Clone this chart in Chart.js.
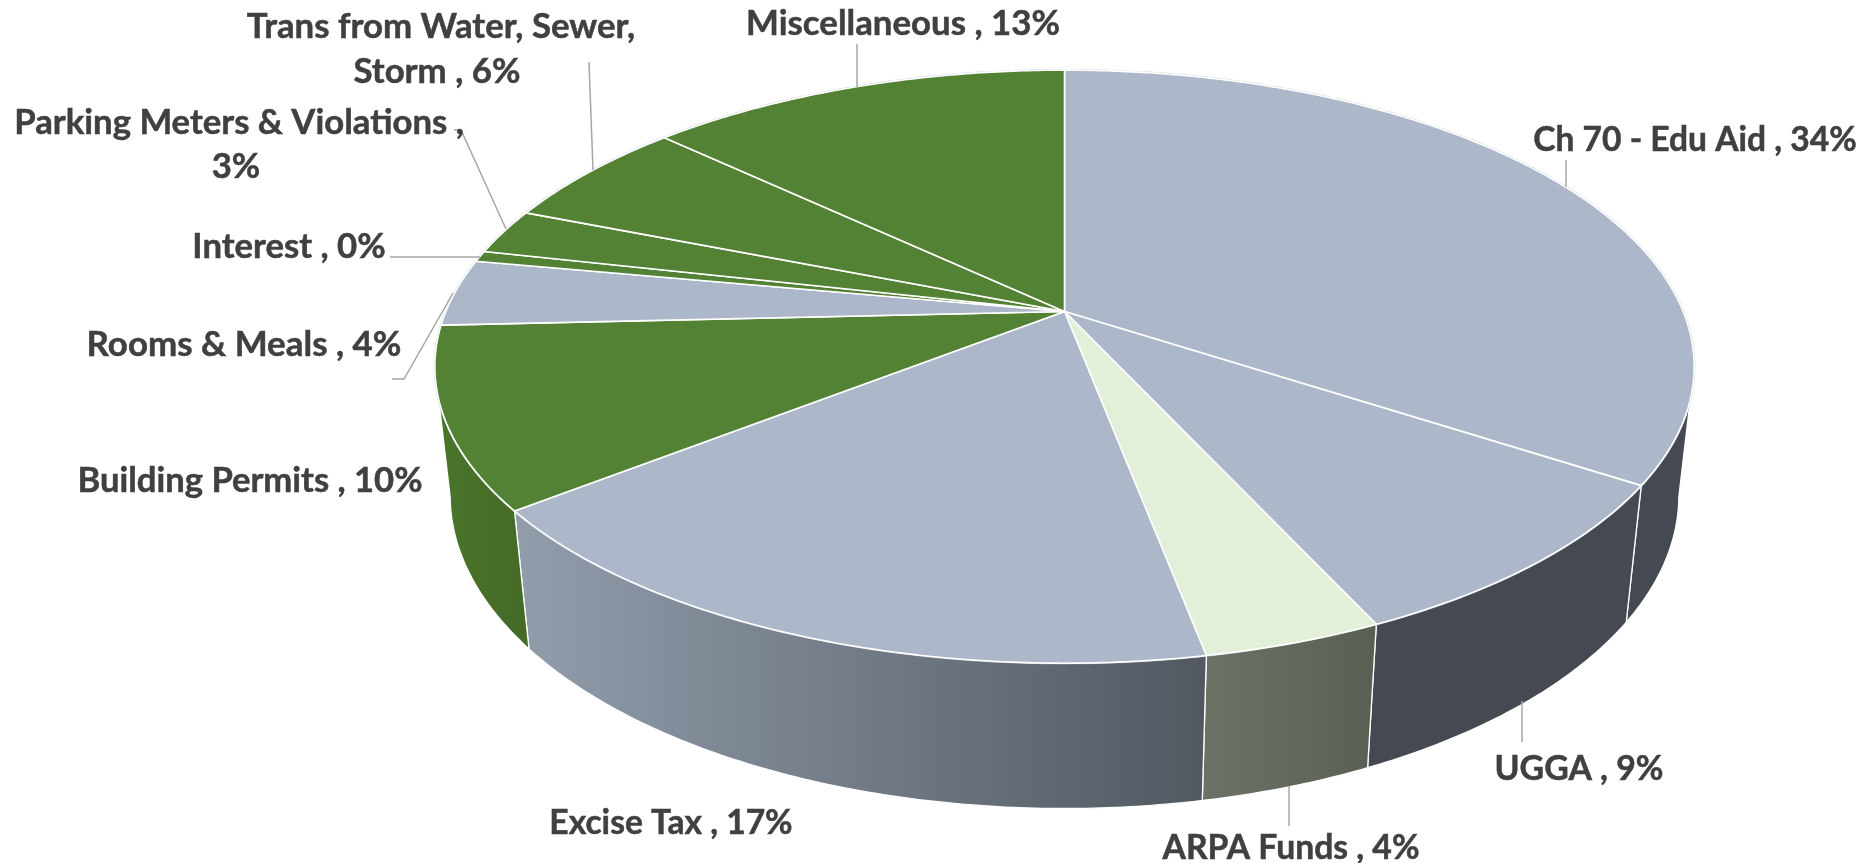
<!DOCTYPE html>
<html>
<head>
<meta charset="utf-8">
<style>html,body{margin:0;padding:0;background:#fff}canvas{display:block}</style>
<script src="https://cdn.jsdelivr.net/npm/chart.js@4"></script>
</head>
<body>
<canvas id="c" width="1863" height="863"></canvas>
<script>
// Data, clockwise from 12 o'clock
const categories = ["Ch 70 - Edu Aid","UGGA","ARPA Funds","Excise Tax","Building Permits","Rooms & Meals","Interest","Parking Meters & Violations","Trans from Water, Sewer, Storm","Miscellaneous"];
const sliceShares = [34.2, 8.92, 3.88, 17.42, 9.83, 3.65, 0.6, 2.5, 6, 13];
const percentLabels = ["34%","9%","4%","17%","10%","4%","0%","3%","6%","13%"];

// Styles
const topColors = ["#acb8c9","#acb8c9","#e2efd9","#acb8c9","#548235","#acb8c9","#548235","#548235","#548235","#548235"];
const wallColors = [["#454a52","#454a52"],["#454a52","#454a52"],["#6b7366","#5a5f54"],["#929dac","#515860"],["#4b752b","#446a26"],["#8a94a2","#8a94a2"],["#446a26","#446a26"],["#446a26","#446a26"],["#446a26","#446a26"],["#446a26","#446a26"]];

// Label placement: text, centre x, centre y, font size, in page pixels
const labelLines = [
  [["Ch 70 - Edu Aid , 34%",1695,140.5,33.6]],
  [["UGGA , 9%",1579,769.5,33.8]],
  [["ARPA Funds , 4%",1291,848.5,33.7]],
  [["Excise Tax , 17%",671,823.5,33.6]],
  [["Building Permits , 10%",250,481,34.6]],
  [["Rooms & Meals , 4%",244,345,34.9]],
  [["Interest , 0%",289,246.5,34.7]],
  [["Parking Meters & Violations ,",239,122.5,34.7],["3%",236,166.5,34.7]],
  [["Trans from Water, Sewer,",441,26.5,34.8],["Storm , 6%",437,71.5,34.8]],
  [["Miscellaneous , 13%",903,23.5,34.8]]
];
const leaders = [
  [[1566,160],[1566,187]],
  [[1522,701],[1522,742]],
  [[1289,786],[1289,826]],
  [[857,44],[857,87]],
  [[589,62],[593,170]],
  [[454,130],[461,130],[506,229]],
  [[390,257],[480,257]],
  [[392,379],[404,379],[453,293]]
];

// Perspective of the disc (multiples of the library's pie radius)
const view = {ax:1.986, by:0.919, k:0.186, depth:0.418, dw:0.024};
const sil = Math.asin(view.k);   // angle where the wall's side edge touches the rim

function project(arc, ang, low){
  const x=Math.cos(ang), y=Math.sin(ang), r=arc.outerRadius;
  const w=1-view.k*y+(low?view.dw:0);
  return [arc.x+r*view.ax*x/w, arc.y+r*(view.by*y+(low?view.depth:0))/w];
}
function rim(arc, from, to, low){
  const pts=[], n=Math.max(2,Math.ceil(Math.abs(to-from)/0.01));
  for(let i=0;i<=n;i++) pts.push(project(arc,from+(to-from)*i/n,low));
  return pts;
}
function tracePts(ctx,pts,first){
  pts.forEach((p,i)=>{ if(i===0&&first) ctx.moveTo(p[0],p[1]); else ctx.lineTo(p[0],p[1]); });
}

const pie3d = {
  id:'pie3d',
  beforeDatasetDraw(chart){
    const ctx=chart.ctx, arcs=chart.getDatasetMeta(0).data;
    ctx.save();
    ctx.lineJoin='round';
    // side walls: only the part of each slice facing the viewer
    arcs.forEach((arc,i)=>{
      const s=Math.max(arc.startAngle,sil), e=Math.min(arc.endAngle,Math.PI-sil);
      if(e<=s) return;
      const up=rim(arc,s,e,false), lo=rim(arc,e,s,true);
      const xs=up.concat(lo).map(p=>p[0]);
      const g=ctx.createLinearGradient(Math.min(...xs),0,Math.max(...xs),0);
      g.addColorStop(0,wallColors[i][0]); g.addColorStop(1,wallColors[i][1]);
      ctx.beginPath(); tracePts(ctx,up,true); tracePts(ctx,lo,false); ctx.closePath();
      ctx.fillStyle=g; ctx.fill();
      ctx.strokeStyle='#ffffff'; ctx.lineWidth=1.3; ctx.stroke();
    });
    // faint outline around the disc
    arcs.forEach(arc=>{
      ctx.beginPath(); tracePts(ctx,rim(arc,arc.startAngle,arc.endAngle,false),true);
      ctx.strokeStyle='rgba(190,195,205,0.7)'; ctx.lineWidth=2.4; ctx.stroke();
    });
    // top face
    arcs.forEach((arc,i)=>{
      ctx.beginPath();
      ctx.moveTo(arc.x,arc.y);
      tracePts(ctx,rim(arc,arc.startAngle,arc.endAngle,false),false);
      ctx.closePath();
      ctx.fillStyle=topColors[i]; ctx.fill();
      ctx.strokeStyle='#ffffff'; ctx.lineWidth=1.6; ctx.stroke();
    });
    ctx.restore();
    return false;
  },
  afterDatasetsDraw(chart){
    const ctx=chart.ctx;
    ctx.save();
    ctx.strokeStyle='#a6a6a6'; ctx.lineWidth=1.5;
    leaders.forEach(l=>{ ctx.beginPath(); tracePts(ctx,l,true); ctx.stroke(); });
    ctx.fillStyle='#404040'; ctx.strokeStyle='#404040'; ctx.lineWidth=0.5;
    ctx.textAlign='center'; ctx.textBaseline='middle';
    labelLines.forEach(ls=>ls.forEach(t=>{
      ctx.font='bold '+t[3]+'px Lato';
      ctx.fillText(t[0],t[1],t[2]); ctx.strokeText(t[0],t[1],t[2]);
    }));
    ctx.restore();
  }
};

new Chart(document.getElementById('c'),{
  type:'pie',
  data:{labels:categories,datasets:[{data:sliceShares,backgroundColor:topColors,borderWidth:0}]},
  options:{
    responsive:false,maintainAspectRatio:false,animation:false,
    layout:{padding:{left:266,bottom:240}},
    plugins:{legend:{display:false},tooltip:{enabled:false}}
  },
  plugins:[pie3d]
});
</script>
</body>
</html>
